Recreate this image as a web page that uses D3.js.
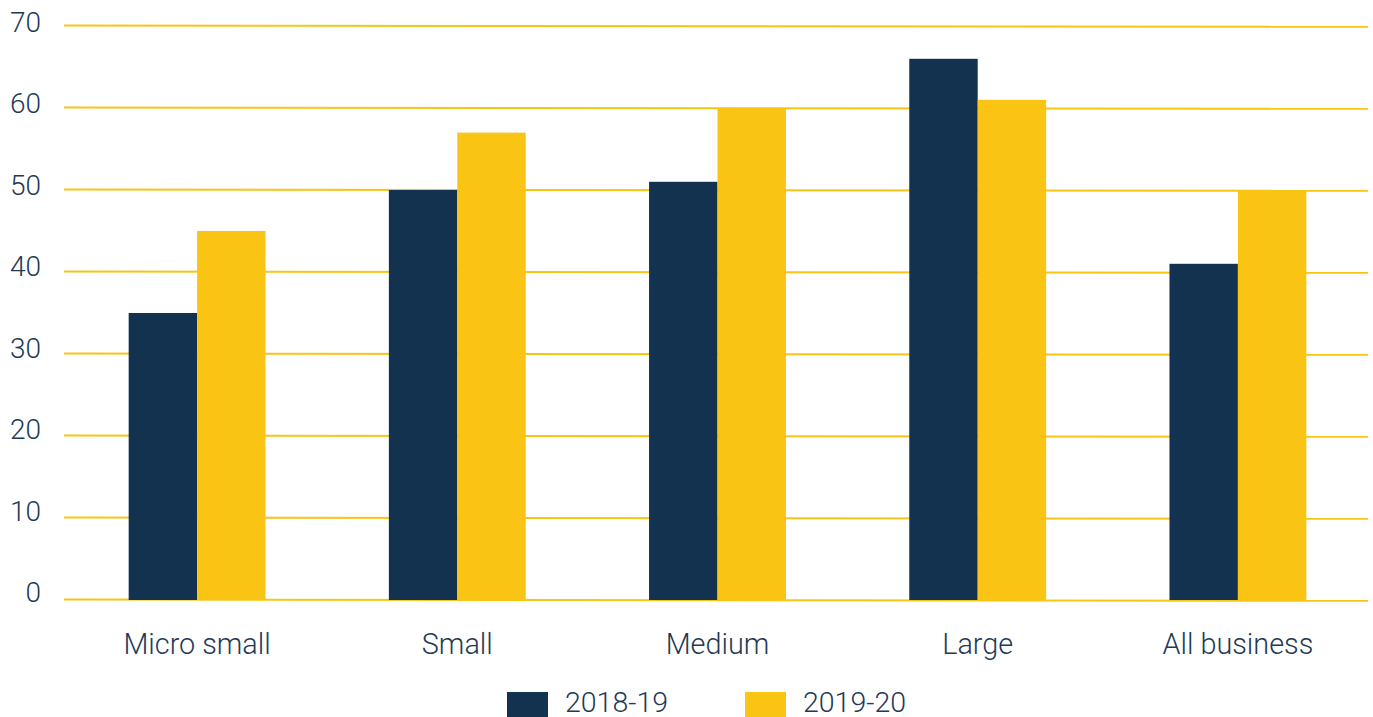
<!DOCTYPE html>
<html>
<head>
<meta charset="utf-8">
<script src="https://cdn.jsdelivr.net/npm/d3@7"></script>
<style>
  html, body { margin: 0; padding: 0; background: #fff; }
  svg { display: block; }
  text { font-family: Roboto, "Liberation Sans", Arial, sans-serif; font-weight: 300; fill: #1f3a57; }
</style>
</head>
<body>
<svg id="chart" width="1373" height="717"></svg>
<script>
// Business size groups and the two survey years
const categories = ["Micro small", "Small", "Medium", "Large", "All business"];
const seriesNames = ["2018-19", "2019-20"];
const values2018 = [35, 50, 51, 66, 41];
const values2019 = [45, 57, 60, 61, 50];
const yTicks = [0, 10, 20, 30, 40, 50, 60, 70];
const colors = ["#12324f", "#f9c414"];

const svg = d3.select("#chart");
const gridLeft = 64, gridRight = 1368;
const plotTop = 26, plotBottom = 600;

const x0 = d3.scaleBand().domain(categories).range([67, 1368])
  .paddingInner(0.474).paddingOuter(0.237);
const x1 = d3.scaleBand().domain(seriesNames).range([0, x0.bandwidth()]);
const y = d3.scaleLinear().domain([0, 70]).range([plotBottom, plotTop]);

// Horizontal gridlines
svg.append("g").selectAll("line").data(yTicks).join("line")
  .attr("x1", gridLeft).attr("x2", gridRight)
  .attr("y1", d => y(d) - 0.5).attr("y2", d => y(d) + 0.8)
  .attr("stroke", colors[1]).attr("stroke-width", 2);

// Y tick labels
svg.append("g").selectAll("text").data(yTicks).join("text")
  .attr("x", 41).attr("y", d => y(d) + 6 - (70 - d) / 70 * 4)
  .attr("text-anchor", "end")
  .attr("font-size", 28)
  .text(d => d);

// Grouped bars
const rows = categories.map((c, i) => ({ cat: c, vals: [values2018[i], values2019[i]] }));
const groups = svg.append("g").selectAll("g").data(rows).join("g")
  .attr("transform", d => `translate(${x0(d.cat)},0)`);
groups.selectAll("rect").data(d => d.vals.map((v, j) => ({ key: seriesNames[j], v, j })))
  .join("rect")
  .attr("x", d => x1(d.key))
  .attr("width", x1.bandwidth())
  .attr("y", d => y(d.v))
  .attr("height", d => y(0) - y(d.v))
  .attr("fill", d => colors[d.j]);

// Category labels
svg.append("g").selectAll("text").data(categories).join("text")
  .attr("x", d => x0(d) + x0.bandwidth() / 2)
  .attr("y", 654)
  .attr("text-anchor", "middle")
  .attr("font-size", 28.8)
  .text(d => d);

// Legend
const legendX = [507, 745];
const legend = svg.append("g").selectAll("g").data(seriesNames).join("g")
  .attr("transform", (d, i) => `translate(${legendX[i]},692)`);
legend.append("rect").attr("width", 41).attr("height", 25)
  .attr("fill", (d, i) => colors[i]);
legend.append("text").attr("x", 58).attr("y", 20)
  .attr("font-size", 28.5).text(d => d);
</script>
</body>
</html>
